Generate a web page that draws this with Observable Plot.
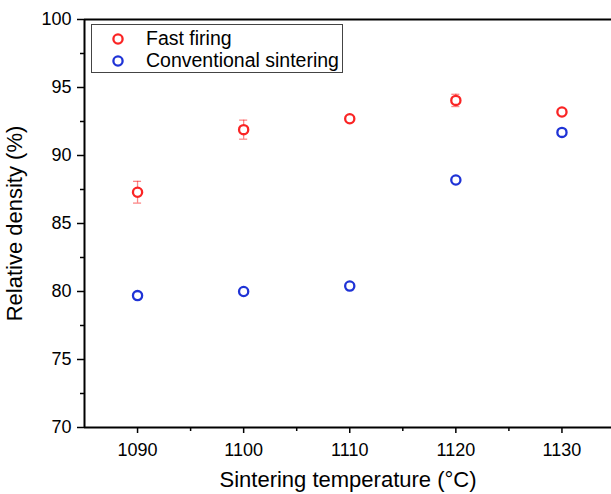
<!DOCTYPE html>
<html>
<head>
<meta charset="utf-8">
<script src="https://cdn.jsdelivr.net/npm/d3@7"></script>
<script src="https://cdn.jsdelivr.net/npm/@observablehq/plot@0.6"></script>
<style>
  body { margin: 0; background: #fff; }
  #wrap { position: relative; width: 611px; height: 494px; overflow: hidden; font-family: "Liberation Sans", Arial, sans-serif; }
  #legend { position: absolute; left: 91px; top: 24px; width: 252px; height: 49px; border: 1px solid #444; background: #fff; box-sizing: border-box; }
  .row { position: absolute; left: 0; height: 23px; display: flex; align-items: center; font-size: 19.5px; color: #000; }
  .row svg { margin-left: 19px; margin-right: 21px; }
</style>
</head>
<body>
<div id="wrap"></div>
<script>
const temperatures = [1090, 1100, 1110, 1120, 1130];
const fastFiring = [87.3, 91.9, 92.7, 94.05, 93.2];
const fastFiringErr = [0.8, 0.7, 0.15, 0.45, 0.2];
const conventional = [79.7, 80.0, 80.4, 88.2, 91.7];
const xMajorTicks = [1090, 1100, 1110, 1120, 1130];
const xMinorTicks = [1095, 1105, 1115, 1125];
const yMajorTicks = [70, 75, 80, 85, 90, 95, 100];
const yMinorTicks = [72.5, 77.5, 82.5, 87.5, 92.5, 97.5];
const seriesNames = ["Fast firing", "Conventional sintering"];
const red = "#fa2424";
const blue = "#1f33d6";

const fast = temperatures.map((t, i) => ({t, v: fastFiring[i], e: fastFiringErr[i]}));
const conv = temperatures.map((t, i) => ({t, v: conventional[i]}));
const capHalf = 0.38;

const chart = Plot.plot({
  width: 611,
  height: 494,
  marginLeft: 84,
  marginRight: 0,
  marginTop: 19,
  marginBottom: 67,
  style: {fontFamily: "'Liberation Sans', Arial, sans-serif", color: "#000", background: "#fff"},
  x: {domain: [1085, 1134.67]},
  y: {domain: [70, 100]},
  marks: [
    // error bars
    Plot.ruleX(fast, {x: "t", y1: d => d.v - d.e, y2: d => d.v + d.e, stroke: red, strokeOpacity: 0.55, strokeWidth: 1.3}),
    Plot.ruleY(fast, {y: d => d.v - d.e, x1: d => d.t - capHalf, x2: d => d.t + capHalf, stroke: red, strokeOpacity: 0.55, strokeWidth: 1.3}),
    Plot.ruleY(fast, {y: d => d.v + d.e, x1: d => d.t - capHalf, x2: d => d.t + capHalf, stroke: red, strokeOpacity: 0.55, strokeWidth: 1.3}),
    Plot.dot(fast, {x: "t", y: "v", r: 4.6, stroke: red, strokeWidth: 2.3, fill: "white"}),
    Plot.dot(conv, {x: "t", y: "v", r: 4.6, stroke: blue, strokeWidth: 2.3, fill: "white"}),
    // frame
    Plot.ruleY([100], {stroke: "#000", strokeWidth: 2}),
    Plot.ruleY([70], {stroke: "#000", strokeWidth: 2}),
    Plot.ruleX([1085], {stroke: "#000", strokeWidth: 2}),
    // axes
    Plot.axisX({ticks: xMajorTicks, tickSize: 6, tickPadding: 10, tickFormat: d => String(d), fontSize: 18, strokeWidth: 1.5, label: null}),
    Plot.axisX({ticks: xMinorTicks, tickSize: 4, tickFormat: null, text: null, strokeWidth: 1.5, label: null}),
    Plot.axisX({ticks: [], label: "Sintering temperature (°C)", labelAnchor: "center", labelArrow: "none", labelOffset: 59, fontSize: 22}),
    Plot.axisY({ticks: yMajorTicks, tickSize: 7, tickPadding: 6, fontSize: 18, strokeWidth: 1.5, label: null}),
    Plot.axisY({ticks: yMinorTicks, tickSize: 4, text: null, strokeWidth: 1.5, label: null}),
    Plot.axisY({ticks: [], label: "Relative density (%)", labelAnchor: "center", labelArrow: "none", labelOffset: 78, fontSize: 22})
  ]
});

const wrap = document.getElementById("wrap");
wrap.appendChild(chart);

const legend = document.createElement("div");
legend.id = "legend";
[[seriesNames[0], red], [seriesNames[1], blue]].forEach(([name, color], i) => {
  const row = document.createElement("div");
  row.className = "row";
  row.style.top = (2 + i * 22) + "px";
  row.innerHTML = `<svg width="14" height="14"><circle cx="7" cy="7" r="4.6" fill="white" stroke="${color}" stroke-width="2.3"/></svg><span>${name}</span>`;
  legend.appendChild(row);
});
wrap.appendChild(legend);
</script>
</body>
</html>
